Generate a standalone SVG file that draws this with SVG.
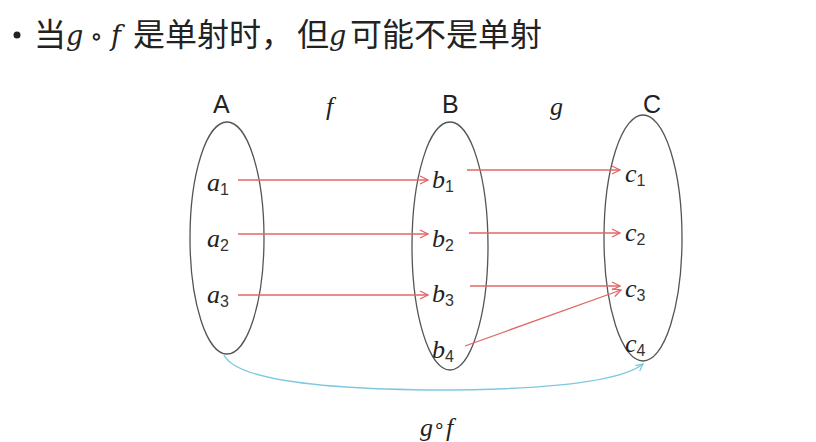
<svg xmlns="http://www.w3.org/2000/svg" width="816" height="442" viewBox="0 0 816 442">
<style>
.cjk{font-family:"Noto Sans CJK SC","Noto Sans",sans-serif;font-size:32px;fill:#222}
.m{font-family:"DejaVu Serif","Liberation Serif",serif;font-style:italic;fill:#222}
.set{fill:none;stroke:#555;stroke-width:1.3}
.lab{font-family:"Liberation Sans",Arial,sans-serif;font-size:25px;fill:#222}
.el{font-family:"Liberation Serif",serif;font-style:italic;font-size:26px;fill:#222}
.sub{font-family:"Liberation Sans",Arial,sans-serif;font-size:16px;font-style:normal;fill:#333}
.red{fill:none;stroke:#e06666;stroke-width:1.3}
.blue{fill:none;stroke:#7fc9e0;stroke-width:1.5}
</style>
<defs>
<marker id="ar" markerWidth="10" markerHeight="10" refX="9" refY="5" orient="auto" markerUnits="userSpaceOnUse">
<path d="M1,1 L9,5 L1,9" fill="none" stroke="#e06666" stroke-width="1.3"/>
</marker>
<marker id="ab" markerWidth="10" markerHeight="10" refX="8" refY="5" orient="auto" markerUnits="userSpaceOnUse">
<path d="M1,1.5 L8,5 L1,8.5" fill="none" stroke="#7fc9e0" stroke-width="1.3"/>
</marker>
</defs>
<rect width="816" height="442" fill="#fff"/>
<g id="title">
<circle cx="17" cy="35" r="3.5" fill="#222"/>
<text class="cjk" x="34" y="46">当</text>
<text class="m" x="66" y="45" font-size="27">g</text>
<text class="m" x="90" y="45" font-size="26" font-style="normal">∘</text>
<text class="m" x="111" y="45" font-size="27">f</text>
<text class="cjk" x="133" y="46">是单射时，</text>
<text class="cjk" x="297" y="46">但</text>
<text class="m" x="329" y="45" font-size="27">g</text>
<text class="cjk" x="350" y="46">可能不是单射</text>
</g>
<g id="setA">
<ellipse class="set" cx="227" cy="238" rx="37" ry="116"/>
<text class="lab" x="213" y="113">A</text>
<text class="el" x="207" y="191">a<tspan class="sub" dy="4">1</tspan></text>
<text class="el" x="207" y="247">a<tspan class="sub" dy="4">2</tspan></text>
<text class="el" x="207" y="303">a<tspan class="sub" dy="4">3</tspan></text>
</g>
<g id="setB">
<ellipse class="set" cx="450" cy="246" rx="38" ry="124"/>
<text class="lab" x="442" y="113">B</text>
<text class="el" x="432" y="188">b<tspan class="sub" dy="4">1</tspan></text>
<text class="el" x="432" y="247">b<tspan class="sub" dy="4">2</tspan></text>
<text class="el" x="432" y="302">b<tspan class="sub" dy="4">3</tspan></text>
<text class="el" x="432" y="358">b<tspan class="sub" dy="4">4</tspan></text>
</g>
<g id="setC">
<ellipse class="set" cx="643" cy="238" rx="39" ry="123"/>
<text class="lab" x="643" y="113">C</text>
<text class="el" x="625" y="182">c<tspan class="sub" dy="4">1</tspan></text>
<text class="el" x="625" y="241">c<tspan class="sub" dy="4">2</tspan></text>
<text class="el" x="625" y="297">c<tspan class="sub" dy="4">3</tspan></text>
<text class="el" x="625" y="352">c<tspan class="sub" dy="4">4</tspan></text>
</g>
<g id="maplabels">
<text class="el" x="326" y="115">f</text>
<text class="el" x="550" y="115">g</text>
<text class="el" x="420" y="436">g<tspan font-style="normal" font-size="20" dy="-3">∘</tspan><tspan dy="3">f</tspan></text>
</g>
<g id="connectors">
<line class="red" x1="238" y1="180" x2="428" y2="180" marker-end="url(#ar)"/>
<line class="red" x1="238" y1="234" x2="428" y2="234" marker-end="url(#ar)"/>
<line class="red" x1="238" y1="295" x2="428" y2="295" marker-end="url(#ar)"/>
<line class="red" x1="467" y1="170" x2="620" y2="170" marker-end="url(#ar)"/>
<line class="red" x1="469" y1="233" x2="620" y2="233" marker-end="url(#ar)"/>
<line class="red" x1="470" y1="286" x2="620" y2="286" marker-end="url(#ar)"/>
<line class="red" x1="465" y1="346" x2="621" y2="290" marker-end="url(#ar)"/>
<path class="blue" d="M224,355 Q240,388 430,390 Q610,390 643,364" marker-end="url(#ab)"/>
</g>
</svg>
